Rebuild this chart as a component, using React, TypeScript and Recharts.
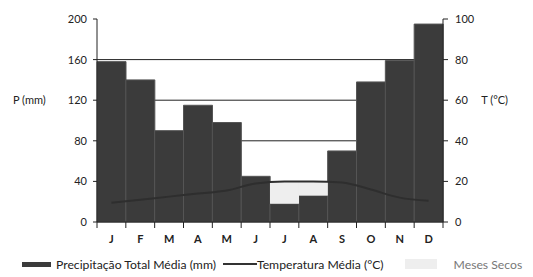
import React from "react";
import {
  ComposedChart,
  Bar,
  Line,
  XAxis,
  YAxis,
  CartesianGrid,
} from "recharts";

const months = ["J", "F", "M", "A", "M", "J", "J", "A", "S", "O", "N", "D"];
const precipitation = [158, 140, 90, 115, 98, 45, 18, 26, 70, 138, 159, 195];
const temperature = [9.5, 11, 12.5, 14, 15.5, 19, 20, 20, 19.5, 16, 12, 10.5];
const dryMonths = [false, false, false, false, false, false, true, true, false, false, false, false];
const pTicks = [0, 40, 80, 120, 160, 200];
const tTicks = [0, 20, 40, 60, 80, 100];

// P scale is 2x the T scale, so a month is dry where P < 2T
const data = months.map((m, i) => ({
  i,
  p: precipitation[i],
  t: temperature[i],
  dry: dryMonths[i] ? temperature[i] * 2 - precipitation[i] : 0,
}));

const font = "Lato, 'Open Sans', sans-serif";

function MonthTick(props: any) {
  const { x, y, payload, index, width, visibleTicksCount } = props;
  const band = width / visibleTicksCount;
  const top = y - 13;
  return (
    <g>
      <line x1={x - band / 2} x2={x - band / 2} y1={top} y2={top + 6} stroke="#222" />
      {index === visibleTicksCount - 1 && (
        <line x1={x + band / 2} x2={x + band / 2} y1={top} y2={top + 6} stroke="#222" />
      )}
      <text
        x={x}
        y={y}
        dy="0.71em"
        textAnchor="middle"
        fontFamily={font}
        fontWeight="bold"
        fontSize={11}
        fill="#222"
      >
        {months[payload.value]}
      </text>
    </g>
  );
}

function Legend() {
  const text = { fontFamily: font, fontSize: 12.2, color: "#222" };
  return (
    <div
      style={{
        position: "absolute",
        left: 22,
        top: 256,
        display: "flex",
        alignItems: "center",
        height: 16,
        whiteSpace: "nowrap",
      }}
    >
      <span style={{ width: 29, height: 5, background: "#3b3b3b", display: "inline-block" }} />
      <span style={{ ...text, marginLeft: 5 }}>Precipitação Total Média (mm)</span>
      <span style={{ width: 34, height: 1.5, background: "#333", display: "inline-block", marginLeft: 7 }} />
      <span style={{ ...text }}>Temperatura Média (°C)</span>
      <span style={{ width: 32, height: 10, background: "#eeeeee", display: "inline-block", marginLeft: 21 }} />
      <span style={{ ...text, color: "#777", marginLeft: 17 }}>Meses Secos</span>
    </div>
  );
}

export default function App() {
  return (
    <div style={{ position: "absolute", left: 0, top: 0, width: 533, height: 277, background: "#fff" }}>
      <ComposedChart
        width={533}
        height={277}
        data={data}
        margin={{ top: 19, right: 0, left: 0, bottom: 30 }}
        barCategoryGap={0}
        barGap={0}
      >
        <CartesianGrid
          vertical={false}
          horizontalValues={[80, 120, 160]}
          stroke="#222"
          strokeWidth={1}
          yAxisId="p"
        />
        <XAxis
          dataKey="i"
          height={25}
          tickLine={false}
          tickSize={6}
          tickMargin={7}
          stroke="#222"
          tick={<MonthTick />}
          interval={0}
        />
        <YAxis
          yAxisId="p"
          orientation="left"
          width={97}
          domain={[0, 200]}
          ticks={pTicks}
          tickSize={4}
          tickMargin={6}
          stroke="#222"
          tick={{ fontFamily: font, fontSize: 11, fill: "#222" }}
          label={{
            value: "P (mm)",
            position: "insideLeft",
            offset: 13,
            dy: -20,
            style: { fontFamily: font, fontSize: 11, fill: "#222" },
          }}
        />
        <YAxis
          yAxisId="t"
          orientation="right"
          width={90}
          domain={[0, 100]}
          ticks={tTicks}
          tickSize={5}
          tickMargin={7}
          stroke="#222"
          tick={{ fontFamily: font, fontSize: 11, fill: "#222" }}
          label={{
            value: "T (°C)",
            position: "insideRight",
            offset: 25,
            dy: -20,
            style: { fontFamily: font, fontSize: 11, fill: "#222", textAnchor: "end" },
          }}
        />
        <Bar
          yAxisId="p"
          dataKey="p"
          stackId="s"
          fill="#3b3b3b"
          stroke="#555"
          strokeWidth={1}
          isAnimationActive={false}
        />
        <Bar yAxisId="p" dataKey="dry" stackId="s" fill="#eeeeee" isAnimationActive={false} />
        <Line
          yAxisId="t"
          dataKey="t"
          type="monotone"
          stroke="#2e2e2e"
          strokeWidth={2}
          dot={false}
          isAnimationActive={false}
        />
      </ComposedChart>
      <Legend />
    </div>
  );
}
